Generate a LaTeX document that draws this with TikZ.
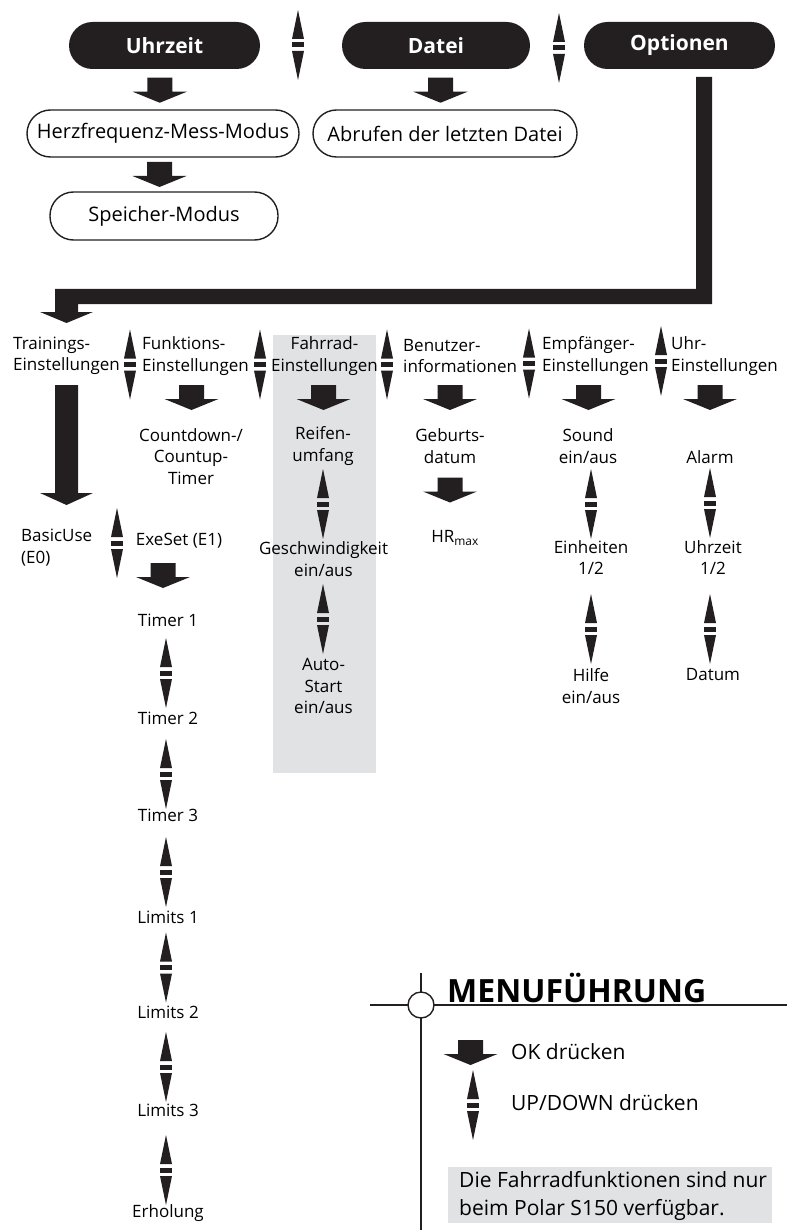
\documentclass[tikz,border=0pt]{standalone}
\usepackage{fontspec}
\setmainfont{Open Sans}
\usetikzlibrary{calc}
\definecolor{pfeil}{RGB}{35,31,32}
\definecolor{grau}{RGB}{225,226,228}
\begin{document}
\begin{tikzpicture}[x=1pt,y=-1pt,
    schwarzpille/.style={fill=pfeil,text=white,rounded corners=23.5pt,minimum height=47pt,
      font=\fontsize{21}{25}\selectfont\bfseries},
    weisspille/.style={draw=pfeil,line width=1.4pt,rounded corners=23.5pt,minimum height=47pt,
      font=\fontsize{20}{24}\selectfont},
    eintrag/.style={align=center,inner sep=0pt,font=\fontsize{17}{21.5}\selectfont},
    kopf/.style={align=left,anchor=west,inner sep=0pt,font=\fontsize{17}{21.5}\selectfont},
    legende/.style={align=left,anchor=west,inner sep=0pt,font=\fontsize{21}{28}\selectfont},
    ok/.pic={\fill[pfeil] (-12.5,-12.5) -- (12.5,-12.5) -- (12.5,1.5) -- (27,1.5) -- (0,12.5)
      -- (-27,1.5) -- (-12.5,1.5) -- cycle;},
    updown/.pic={\fill[pfeil] (0,-35) -- (6,-6) -- (-6,-6) -- cycle;
      \fill[pfeil] (-6,-2.5) rectangle (6,2.5);
      \fill[pfeil] (0,35) -- (6,6) -- (-6,6) -- cycle;}]
  \useasboundingbox (0,0) rectangle (787,1230);
  % Hintergrund Fahrrad
  \fill[grau] (273,335) rectangle (376,773);
  % obere Reihe
  \node[schwarzpille,minimum width=191pt] (uhr) at (164.5,45.5) {Uhrzeit};
  \node[schwarzpille,minimum width=188pt] (datei) at (436,45.5) {Datei};
  \node[schwarzpille,minimum width=191pt] (opt) at (679.5,45.5) {Optionen};
  \pic at (298,45) {updown};
  \pic at (559,48) {updown};
  \node[weisspille,minimum width=272pt] (herz) at (163,133.5) {Herzfrequenz-Mess-Modus};
  \node[weisspille,minimum width=264pt] (abruf) at (445,133.5) {Abrufen der letzten Datei};
  \node[weisspille,minimum width=228pt,minimum height=48pt] (speicher) at (164,216) {Speicher-Modus};
  \pic at ($(uhr.south)!0.5!(herz.north)+(-4,1)$) {ok};
  \pic at ($(datei.south)!0.5!(abruf.north)+(0,1)$) {ok};
  \pic at ($(herz.south)!0.5!(speicher.north)+(-4,0)$) {ok};
  % Optionen -> Einstellungen
  \fill[pfeil] (696,77) -- (712,77) -- (712,304) -- (78,304) -- (78,312) -- (93,312) -- (66.5,323)
    -- (40,312) -- (55,312) -- (55,289) -- (696,289) -- cycle;
  % Einstellungen
  \node[kopf] (train) at (13,356) {Trainings-\\Einstellungen};
  \node[kopf] (funk) at (142,356) {Funktions-\\Einstellungen};
  \node[eintrag] (rad) at (324.5,356) {Fahrrad-\\Einstellungen};
  \node[kopf] (benutzer) at (403,356) {Benutzer-\\informationen};
  \node[kopf] (empf) at (542,356) {Empfänger-\\Einstellungen};
  \node[kopf] (uhrein) at (671,356) {Uhr-\\Einstellungen};
  \pic at (130,364.5) {updown};
  \pic at (260,364.5) {updown};
  \pic at (387,364.5) {updown};
  \pic at (529,363.5) {updown};
  \pic at (661,361) {updown};
  \foreach \x in {191.5,323.5,450,588.5,710}
    \pic at (\x,397.5) {ok};
  \fill[pfeil] (55,385) -- (78,385) -- (78,493) -- (93,493) -- (66.5,505) -- (40,493) -- (55,493) -- cycle;
  % Unterpunkte
  \node[eintrag] (count) at (191,456.5) {Countdown-/\\Countup-\\Timer};
  \node[eintrag] (reifen) at (323,446) {Reifen-\\umfang};
  \node[eintrag] (geburt) at (450,446) {Geburts-\\datum};
  \node[eintrag] (sound) at (588,446) {Sound\\ein/aus};
  \node[eintrag] (alarm) at (710,457) {Alarm};
  \pic at (450,490) {ok};
  \node[eintrag] (hrmax) at (455,538) {HR\textsubscript{max}};
  \node[kopf] (basic) at (21,547.5) {BasicUse\\(E0)};
  \pic at (117,543) {updown};
  \node[eintrag] (exe) at (179,541) {ExeSet (E1)};
  \pic at (163,575.5) {ok};
  \node[eintrag] (t1) at (168,620) {Timer 1};
  \node[eintrag] (t2) at (168,718) {Timer 2};
  \node[eintrag] (t3) at (168,815) {Timer 3};
  \node[eintrag] (l1) at (168,917) {Limits 1};
  \node[eintrag] (l2) at (168,1012) {Limits 2};
  \node[eintrag] (l3) at (168,1110) {Limits 3};
  \node[eintrag] (erh) at (168,1213) {Erholung};
  \foreach \y in {673,774,872,967.5,1067,1170}
    \pic at (166,\y) {updown};
  \pic at (323,504) {updown};
  \node[eintrag] (tempo) at (323.5,559) {Geschwindigkeit\\ein/aus};
  \pic at (323,619) {updown};
  \node[eintrag] (auto) at (323.5,686) {Auto-\\Start\\ein/aus};
  \pic at (591,504) {updown};
  \node[eintrag] (einh) at (591,557.5) {Einheiten\\1/2};
  \pic at (591,629) {updown};
  \node[eintrag] (hilfe) at (591,686) {Hilfe\\ein/aus};
  \pic at (710,503) {updown};
  \node[eintrag] (uhrzeit) at (713,557.5) {Uhrzeit\\1/2};
  \pic at (710,629) {updown};
  \node[eintrag] (datum) at (713,675) {Datum};
  % Legende
  \draw[pfeil,line width=1.4pt] (370,1005) -- (787,1005);
  \draw[pfeil,line width=1.4pt] (421,973) -- (421,1230);
  \node[circle,draw=pfeil,fill=white,line width=1.4pt,minimum size=26pt,inner sep=0pt] (kreis) at (421,1005) {};
  \node[anchor=west,inner sep=0pt,font=\fontsize{32}{36}\selectfont\bfseries] (titel) at (447,988) {MENUFÜHRUNG};
  \pic at (470.5,1052.5) {ok};
  \node[legende] (okt) at (511,1052) {OK drücken};
  \pic at (473,1105) {updown};
  \node[legende] (upt) at (511,1103) {UP/DOWN drücken};
  \fill[grau] (448,1167) rectangle (772,1223);
  \node[legende] (hinweis) at (459,1196) {Die Fahrradfunktionen sind nur\\beim Polar S150 verfügbar.};
\end{tikzpicture}
\end{document}
